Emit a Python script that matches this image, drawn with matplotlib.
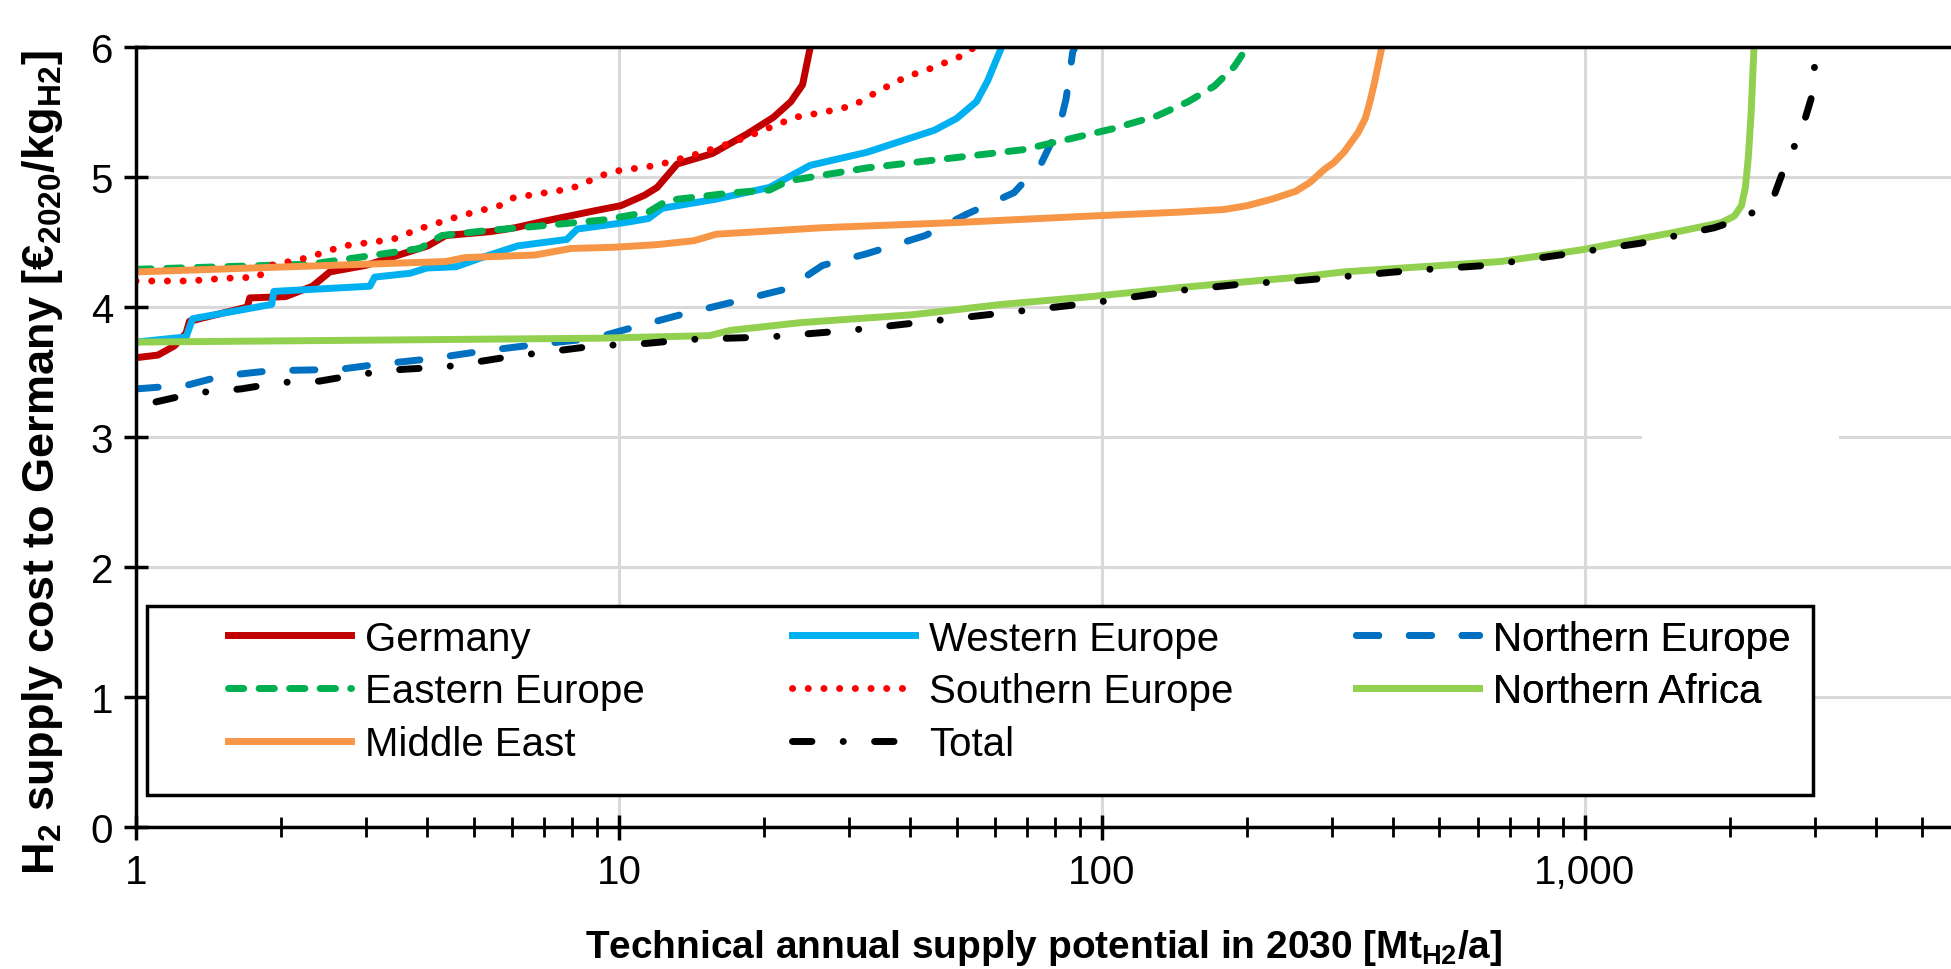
import matplotlib
matplotlib.use("Agg")
import matplotlib.pyplot as plt
from matplotlib.patches import Rectangle
from matplotlib.ticker import FixedLocator, FuncFormatter, NullFormatter

plt.rcParams['font.family'] = ['Liberation Sans', 'DejaVu Sans']
plt.rcParams['mathtext.fontset'] = 'custom'
plt.rcParams['mathtext.rm'] = 'Liberation Sans'
plt.rcParams['mathtext.bf'] = 'Liberation Sans:bold'
plt.rcParams['lines.scale_dashes'] = False

# data (supply potential Mt/a, cost EUR/kg)
germany_x = [1, 1.11, 1.2, 1.27, 1.29, 1.7, 1.72, 2.04, 2.32, 2.52, 2.99, 4.02, 4.38, 5.43, 6.1, 7.0,
             8.9, 10.1, 11.3, 12.0, 13.2, 15.6, 18.4, 20.9, 22.7, 24.0, 24.9]
germany_y = [3.61, 3.63, 3.70, 3.80, 3.89, 4.00, 4.07, 4.08, 4.16, 4.27, 4.32, 4.47, 4.55, 4.58, 4.61, 4.66,
             4.74, 4.78, 4.86, 4.92, 5.10, 5.18, 5.33, 5.46, 5.58, 5.71, 6.0]

west_x = [1, 1.27, 1.31, 1.91, 1.93, 3.05, 3.12, 3.7, 4.0, 4.6, 5.2, 6.17, 7.8, 8.2, 10.3, 11.5, 12.3,
          15.9, 20.5, 24.9, 32.6, 45, 50, 55, 58, 62]
west_y = [3.73, 3.77, 3.91, 4.02, 4.12, 4.16, 4.23, 4.26, 4.30, 4.31, 4.38, 4.47, 4.52, 4.60, 4.65, 4.68, 4.76,
          4.83, 4.92, 5.09, 5.19, 5.36, 5.45, 5.58, 5.74, 6.0]

north_x = [1, 1.28, 1.51, 1.9, 2.63, 3.18, 4.04, 5.2, 6.7, 8.9, 10.4, 13.4, 17.3, 22.3, 26.4, 32.6, 43.1,
           52.2, 65.8, 75, 81.8, 84.3, 87, 88]
north_y = [3.37, 3.40, 3.47, 3.51, 3.52, 3.56, 3.60, 3.66, 3.71, 3.76, 3.83, 3.94, 4.04, 4.14, 4.32, 4.41, 4.55,
           4.71, 4.88, 5.11, 5.40, 5.60, 5.96, 6.0]

east_x = [1, 2.3, 2.87, 3.87, 4.3, 5.4, 6.7, 9.3, 11.5, 12.6, 17.3, 20.5, 22.4, 32.6, 50, 68.6, 85, 105,
          130, 151, 171, 188, 200]
east_y = [4.29, 4.33, 4.38, 4.45, 4.55, 4.59, 4.62, 4.67, 4.73, 4.82, 4.88, 4.90, 4.97, 5.07, 5.15, 5.21, 5.29,
          5.37, 5.47, 5.58, 5.70, 5.85, 6.0]

south_x = [1, 1.29, 1.51, 1.79, 1.9, 2.27, 2.69, 3.4, 3.85, 4.68, 5.66, 6.05, 7.95, 9.62, 12.0, 14.6, 17.6,
           20.2, 23.2, 26.7, 30.6, 34.4, 39.3, 44.6, 51.1, 54.6]
south_y = [4.20, 4.20, 4.22, 4.23, 4.32, 4.38, 4.47, 4.52, 4.60, 4.70, 4.78, 4.84, 4.91, 5.04, 5.09, 5.18, 5.28,
           5.37, 5.46, 5.50, 5.55, 5.66, 5.77, 5.84, 5.93, 6.0]

africa_x = [1, 9.1, 15.4, 17, 23.8, 40.4, 62, 95, 145, 256, 317, 670, 985, 1560, 1920, 2040, 2110, 2150,
            2180, 2210, 2240]
africa_y = [3.73, 3.76, 3.78, 3.82, 3.88, 3.94, 4.02, 4.08, 4.15, 4.23, 4.27, 4.35, 4.44, 4.58, 4.65, 4.70,
            4.78, 4.92, 5.15, 5.50, 6.0]

mideast_x = [1, 4.38, 4.8, 6.7, 7.95, 9.8, 12.0, 14.3, 15.9, 26.4, 50, 95, 145, 179, 200, 225, 252, 270,
             289, 302, 317, 339, 351, 359, 367, 380]
mideast_y = [4.27, 4.35, 4.38, 4.40, 4.45, 4.46, 4.48, 4.51, 4.56, 4.61, 4.65, 4.70, 4.73, 4.75, 4.78, 4.83,
             4.89, 4.96, 5.06, 5.11, 5.19, 5.34, 5.45, 5.58, 5.73, 6.0]

total_x = [1.1, 1.33, 1.65, 2.0, 2.4, 2.87, 3.55, 4.38, 6.0, 8.9, 11.4, 13.9, 20.5, 30, 44, 64.5, 95, 139,
           199, 251, 435, 626, 927, 1300, 1855, 2150, 2450, 2600, 2800, 2940, 3020]
total_y = [3.27, 3.34, 3.37, 3.42, 3.43, 3.48, 3.52, 3.54, 3.62, 3.70, 3.72, 3.75, 3.77, 3.82, 3.89, 3.96,
           4.03, 4.12, 4.18, 4.20, 4.28, 4.32, 4.41, 4.49, 4.61, 4.69, 4.83, 5.09, 5.34, 5.60, 6.0]

fig = plt.figure(figsize=(19.51, 9.70), dpi=100)
ax = fig.add_axes([0.0697, 0.1464, 0.9303, 0.8041])

lw = 5.0
h_de, = ax.plot(germany_x, germany_y, color='#C00000', lw=lw, label='Germany')
h_we, = ax.plot(west_x, west_y, color='#00B0F0', lw=lw, label='Western Europe')
h_ne, = ax.plot(north_x, north_y, color='#0070C0', lw=lw, dashes=(16, 22),
                dash_capstyle='round', label='Northern Europe')
h_ee, = ax.plot(east_x, east_y, color='#00B050', lw=lw, dashes=(11, 11),
                dash_capstyle='round', label='Eastern Europe')
h_se, = ax.plot(south_x, south_y, color='#FF0000', lw=lw, dashes=(0.1, 11.2),
                dash_capstyle='round', label='Southern Europe')
h_na, = ax.plot(africa_x, africa_y, color='#92D050', lw=lw, label='Northern Africa')
h_me, = ax.plot(mideast_x, mideast_y, color='#F79646', lw=lw, label='Middle East')
h_to, = ax.plot(total_x, total_y, color='black', lw=lw, dashes=(14, 22.5, 0.1, 22.5),
                dash_capstyle='round', label='Total')

ax.set_xscale('log')
ax.set_xlim(1, 5730)
ax.set_ylim(0, 6)

ax.xaxis.set_major_locator(FixedLocator([1, 10, 100, 1000]))
ax.xaxis.set_major_formatter(FuncFormatter(lambda v, p: '{:,.0f}'.format(v)))
minors = [m * 10 ** d for d in range(4) for m in range(2, 10) if m * 10 ** d < 5730]
ax.xaxis.set_minor_locator(FixedLocator(minors))
ax.xaxis.set_minor_formatter(NullFormatter())
ax.set_yticks(range(0, 7))

ax.grid(True, which='major', color='#D9D9D9', lw=2.2)
ax.set_axisbelow(True)
for s in ['left', 'bottom', 'top']:
    ax.spines[s].set_linewidth(2.5)
    ax.spines[s].set_color('black')
ax.spines['right'].set_visible(False)

ax.tick_params(axis='y', which='major', direction='inout', length=17, width=2.5, labelsize=29, pad=8)
ax.tick_params(axis='x', which='major', direction='inout', length=18, width=2.5, labelsize=29, pad=10)
ax.tick_params(axis='x', which='minor', direction='inout', length=14, width=2)

ax.set_xlabel(r'Technical annual supply potential in 2030 [Mt$_\mathbf{H2}$/a]', fontsize=28,
              fontweight='bold', labelpad=26)
ax.set_ylabel(r'H$_\mathbf{2}$ supply cost to Germany [€$_\mathbf{2020}$/kg$_\mathbf{H2}$]', fontsize=32.5,
              fontweight='bold')
ax.yaxis.set_label_coords(-0.039, 0.468)

# white area where the QR code sits in the original (gridlines are hidden there)
ax.add_patch(Rectangle((0.830, 0.376), 0.1085, 0.255, transform=ax.transAxes,
                       facecolor='white', edgecolor='none', zorder=1.5))

# legend frame drawn by hand, one legend per column placed inside it
ax.add_patch(Rectangle((0.006, 0.041), 0.918, 0.242, transform=ax.transAxes,
                       facecolor='white', edgecolor='black', lw=2.5, zorder=4))
columns = [[h_de, h_ee, h_me], [h_we, h_se, h_to], [h_ne, h_na]]
col_x = [0.0507, 0.3614, 0.6722]
for hs, cx in zip(columns, col_x):
    leg = ax.legend(handles=hs, loc='upper left', bbox_to_anchor=(cx, 0.266),
                    fontsize=29, frameon=False, handlelength=3.05, handletextpad=0.35,
                    borderaxespad=0, borderpad=0, labelspacing=0.37)
    leg.set_zorder(5)
    ax.add_artist(leg)

fig.savefig('out.png', dpi=100)
